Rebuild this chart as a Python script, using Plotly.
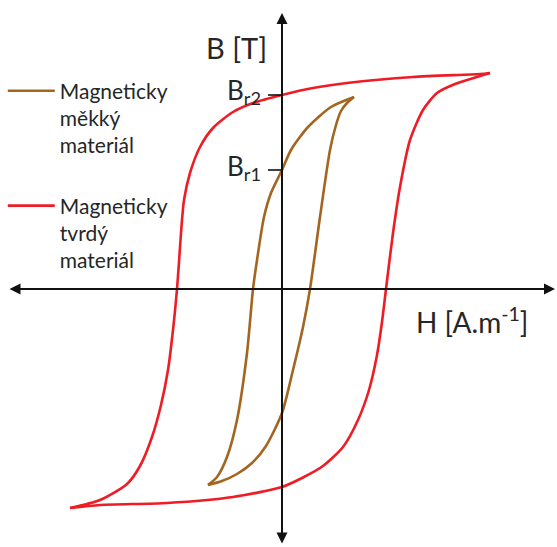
import plotly.graph_objects as go

# Hysteresis loops (H in arbitrary units, B in arbitrary units)
# Hard magnetic material: descending branch (right tip -> left tip)
hard_up_H = [2.08, 1.98, 1.31, 0.65, 0.31, 0.00, -0.29, -0.49, -0.69, -0.82, -0.92,
             -0.98, -1.01, -1.03, -1.05, -1.09, -1.14, -1.21, -1.30, -1.42, -1.55,
             -1.82, -2.12]
hard_up_B = [2.16, 2.15, 2.12, 2.06, 2.01, 1.94, 1.86, 1.77, 1.61, 1.42, 1.16,
             0.89, 0.56, 0.27, 0.00, -0.41, -0.81, -1.16, -1.48, -1.77, -1.95,
             -2.11, -2.19]
# Hard magnetic material: ascending branch (left tip -> right tip)
hard_dn_H = [-2.12, -1.82, -1.15, -0.49, 0.00, 0.20, 0.41, 0.61, 0.76, 0.87, 0.95,
             1.00, 1.04, 1.11, 1.18, 1.28, 1.41, 1.55, 1.73, 1.98, 2.08]
hard_dn_B = [-2.19, -2.16, -2.14, -2.08, -1.98, -1.89, -1.77, -1.58, -1.31, -1.01, -0.66,
             -0.33, 0.00, 0.56, 1.02, 1.49, 1.79, 1.96, 2.05, 2.13, 2.16]

# Soft magnetic material: descending branch
soft_up_H = [0.72, 0.49, 0.26, 0.09, 0.00, -0.11, -0.18, -0.26, -0.29, -0.35, -0.45,
             -0.55, -0.65, -0.74]
soft_up_B = [1.92, 1.82, 1.62, 1.39, 1.19, 0.96, 0.72, 0.22, 0.00, -0.64, -1.31,
             -1.68, -1.88, -1.96]
# Soft magnetic material: ascending branch
soft_dn_H = [-0.74, -0.60, -0.45, -0.30, -0.16, 0.00, 0.11, 0.21, 0.28, 0.38, 0.48,
             0.54, 0.59, 0.65, 0.72]
soft_dn_B = [-1.96, -1.92, -1.85, -1.74, -1.57, -1.24, -0.81, -0.38, 0.00, 0.72, 1.39,
             1.64, 1.78, 1.86, 1.92]

# Remanence values (B at H = 0 on the descending branches)
BR_SOFT = soft_up_B[soft_up_H.index(0.0)]
BR_HARD = hard_up_B[hard_up_H.index(0.0)]

SOFT_NAME = "Magneticky<br>měkký<br>materiál"
HARD_NAME = "Magneticky<br>tvrdý<br>materiál"

RED = "#EE1C24"
BROWN = "#A3651F"
INK = "#262626"
FONT = "Lato"

X_RANGE = [-2.82, 2.75]
Y_RANGE = [-2.58, 2.89]

fig = go.Figure()

fig.add_trace(go.Scatter(
    x=soft_up_H + [None] + soft_dn_H,
    y=soft_up_B + [None] + soft_dn_B,
    mode="lines", line=dict(color=BROWN, width=2.6, shape="spline", smoothing=0.7),
    name=SOFT_NAME, legendgroup="soft", connectgaps=False,
))
fig.add_trace(go.Scatter(
    x=hard_up_H + [None] + hard_dn_H,
    y=hard_up_B + [None] + hard_dn_B,
    mode="lines", line=dict(color=RED, width=2.6, shape="spline", smoothing=0.7),
    name=HARD_NAME, legendgroup="hard", connectgaps=False,
))

annotations = [
    # horizontal axis with arrows at both ends
    dict(x=2.73, y=0, ax=-2.74, ay=0, xref="x", yref="y", axref="x", ayref="y",
         showarrow=True, arrowhead=2, startarrowhead=2, arrowside="end+start",
         arrowsize=1.1, startarrowsize=1.1, arrowwidth=2, arrowcolor="#111111", text=""),
    # vertical axis with arrows at both ends
    dict(x=0, y=2.76, ax=0, ay=-2.56, xref="x", yref="y", axref="x", ayref="y",
         showarrow=True, arrowhead=2, startarrowhead=2, arrowside="end+start",
         arrowsize=1.1, startarrowsize=1.1, arrowwidth=2, arrowcolor="#111111", text=""),
    dict(x=-0.46, y=2.42, xref="x", yref="y", text="B [T]", showarrow=False,
         font=dict(family=FONT, size=29, color=INK), xanchor="center", yanchor="middle"),
    dict(x=1.90, y=-0.31, xref="x", yref="y", text="H [A.m<sup>-1</sup>]", showarrow=False,
         font=dict(family=FONT, size=28, color=INK), xanchor="center", yanchor="middle"),
    dict(x=-0.19, y=BR_HARD, xref="x", yref="y", text="B<sub>r2</sub>", showarrow=False,
         font=dict(family=FONT, size=26, color=INK), xanchor="right", yanchor="middle",
         yshift=4),
    dict(x=-0.19, y=BR_SOFT, xref="x", yref="y", text="B<sub>r1</sub>", showarrow=False,
         font=dict(family=FONT, size=26, color=INK), xanchor="right", yanchor="middle",
         yshift=3),
]

shapes = [
    dict(type="line", xref="x", yref="y", x0=-0.14, x1=0, y0=br, y1=br,
         line=dict(color="#111111", width=1.6))
    for br in (BR_HARD, BR_SOFT)
]

fig.update_layout(
    width=557, height=547,
    margin=dict(l=0, r=0, t=0, b=0),
    paper_bgcolor="white", plot_bgcolor="white",
    xaxis=dict(range=X_RANGE, visible=False, fixedrange=True),
    yaxis=dict(range=Y_RANGE, visible=False, fixedrange=True),
    showlegend=True,
    legend=dict(x=0.005, y=0.871, xanchor="left", yanchor="top",
                font=dict(family=FONT, size=21, color=INK),
                valign="top", itemwidth=47, tracegroupgap=30,
                bgcolor="rgba(0,0,0,0)"),
    annotations=annotations,
    shapes=shapes,
)

fig.write_html("out.html")
